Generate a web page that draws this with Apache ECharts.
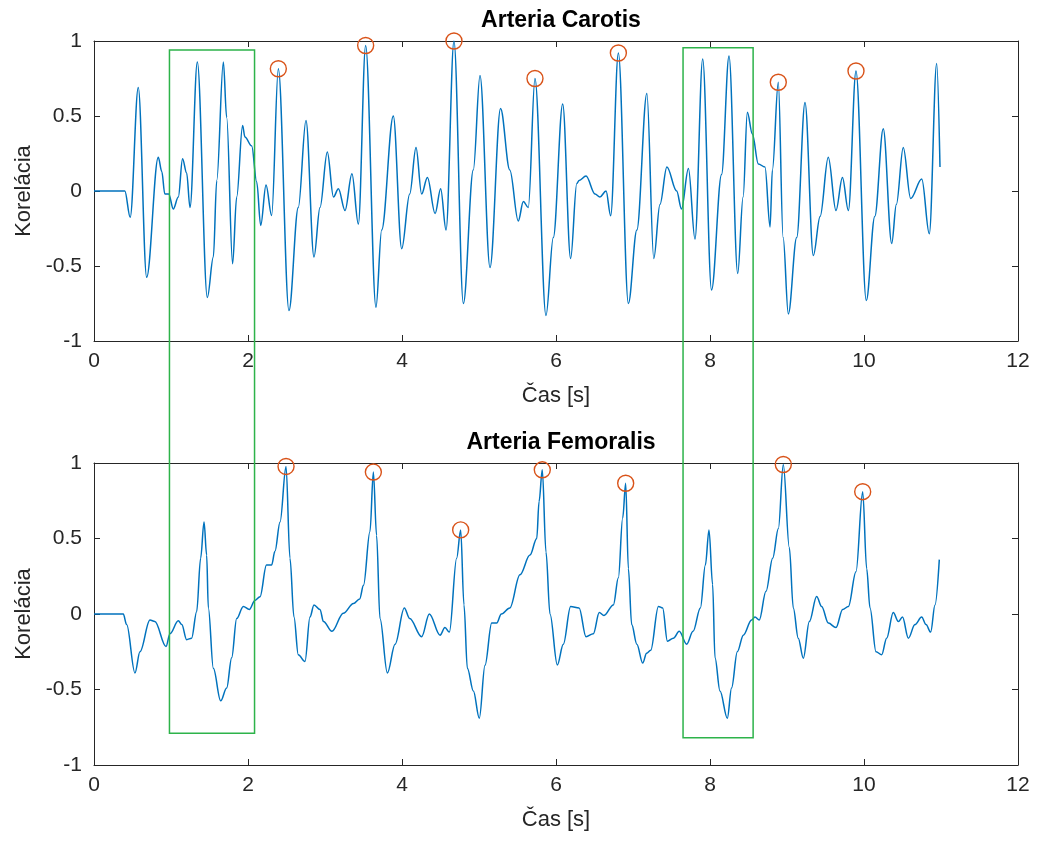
<!DOCTYPE html>
<html>
<head>
<meta charset="utf-8">
<title>Arteria Carotis / Femoralis</title>
<script src="https://cdn.jsdelivr.net/npm/echarts@6/dist/echarts.min.js"></script>
<style>
  html, body { margin: 0; padding: 0; background: #fff; }
  #main { width: 1038px; height: 843px; }
</style>
</head>
<body>
<div id="main"></div>
<script>
// hodnoty odčítané z obrázka
var carotisT = [0, 0.40, 0.47, 0.575, 0.684, 0.835, 0.88, 0.92, 0.97, 1.03, 1.095, 1.15, 1.203, 1.247, 1.342, 1.472, 1.55, 1.594, 1.68, 1.723, 1.80, 1.853, 1.93, 1.96, 2.048, 2.113, 2.165, 2.234, 2.307, 2.394, 2.532, 2.653, 2.753, 2.857, 2.935, 3.03, 3.11, 3.174, 3.26, 3.35, 3.433, 3.528, 3.662, 3.736, 3.887, 3.996, 4.10, 4.182, 4.255, 4.33, 4.43, 4.502, 4.572, 4.675, 4.797, 4.926, 5.013, 5.143, 5.28, 5.40, 5.51, 5.576, 5.64, 5.727, 5.87, 5.965, 6.087, 6.19, 6.27, 6.30, 6.39, 6.507, 6.57, 6.65, 6.71, 6.81, 6.94, 7.05, 7.18, 7.27, 7.35, 7.44, 7.567, 7.63, 7.72, 7.805, 7.905, 8.02, 8.15, 8.247, 8.36, 8.43, 8.485, 8.55, 8.628, 8.714, 8.78, 8.81, 8.887, 8.95, 9.017, 9.126, 9.234, 9.342, 9.43, 9.536, 9.636, 9.72, 9.797, 9.896, 10.03, 10.14, 10.25, 10.36, 10.42, 10.51, 10.606, 10.75, 10.848, 10.944, 10.987];
var carotisV = [0, 0, -0.175, 0.69, -0.575, 0.225, 0.13, -0.02, -0.02, -0.12, -0.04, 0.215, 0.12, -0.11, 0.86, -0.71, -0.44, 0.07, 0.86, 0.49, -0.485, -0.04, 0.437, 0.36, 0.30, 0.06, -0.23, 0.04, -0.163, 0.815, -0.797, -0.11, 0.47, -0.44, -0.11, 0.26, -0.04, 0.015, -0.13, 0.115, -0.22, 0.97, -0.775, -0.26, 0.50, -0.385, -0.02, 0.29, -0.02, 0.09, -0.15, 0.015, -0.26, 1.0, -0.75, 0.14, 0.77, -0.51, 0.55, 0.14, -0.2, -0.07, -0.11, 0.75, -0.83, -0.31, 0.58, -0.45, 0.05, 0.07, 0.10, -0.02, -0.04, 0.0, -0.165, 0.92, -0.75, -0.26, 0.65, -0.45, -0.09, 0.16, 0.0, -0.12, 0.15, -0.32, 0.88, -0.66, 0.11, 0.90, -0.55, -0.04, 0.525, 0.38, 0.18, 0.16, -0.24, 0.14, 0.725, -0.31, -0.82, -0.31, 0.59, -0.43, -0.17, 0.225, -0.13, 0.09, -0.13, 0.80, -0.73, -0.17, 0.415, -0.35, -0.09, 0.29, -0.05, 0.08, -0.285, 0.85, 0.16];
var carotisPeakT = [2.394, 3.528, 4.675, 5.727, 6.81, 8.887, 9.896];
var carotisPeakV = [0.815, 0.97, 1.0, 0.75, 0.92, 0.725, 0.80];

var femoralisT = [0, 0.38, 0.424, 0.532, 0.597, 0.727, 0.79, 0.935, 0.987, 1.095, 1.14, 1.203, 1.268, 1.333, 1.385, 1.429, 1.463, 1.485, 1.55, 1.645, 1.723, 1.788, 1.853, 1.939, 2.017, 2.09, 2.156, 2.24, 2.307, 2.35, 2.416, 2.494, 2.545, 2.597, 2.653, 2.74, 2.805, 2.857, 2.935, 2.98, 3.09, 3.238, 3.37, 3.45, 3.50, 3.584, 3.628, 3.67, 3.714, 3.81, 3.91, 4.03, 4.10, 4.255, 4.355, 4.494, 4.558, 4.615, 4.71, 4.762, 4.805, 4.849, 4.927, 5.004, 5.078, 5.165, 5.23, 5.29, 5.40, 5.532, 5.662, 5.75, 5.78, 5.822, 5.87, 5.922, 6.017, 6.095, 6.19, 6.30, 6.39, 6.485, 6.562, 6.623, 6.745, 6.81, 6.866, 6.905, 6.94, 6.983, 7.05, 7.126, 7.177, 7.23, 7.33, 7.385, 7.447, 7.524, 7.60, 7.697, 7.78, 7.875, 7.94, 7.987, 8.034, 8.065, 8.13, 8.225, 8.28, 8.355, 8.433, 8.54, 8.584, 8.64, 8.727, 8.814, 8.888, 8.952, 9.03, 9.082, 9.146, 9.212, 9.29, 9.385, 9.45, 9.537, 9.636, 9.723, 9.797, 9.896, 9.983, 10.035, 10.078, 10.156, 10.23, 10.294, 10.38, 10.446, 10.5, 10.576, 10.662, 10.749, 10.805, 10.866, 10.922, 10.978];
var femoralisV = [0, 0, -0.07, -0.39, -0.25, -0.04, -0.05, -0.215, -0.13, -0.045, -0.07, -0.17, -0.16, 0.015, 0.37, 0.61, 0.39, 0.04, -0.36, -0.575, -0.49, -0.29, -0.03, 0.05, 0.03, 0.09, 0.115, 0.325, 0.325, 0.415, 0.61, 0.977, 0.37, -0.02, -0.27, -0.315, -0.02, 0.06, 0.03, -0.05, -0.115, 0.005, 0.07, 0.10, 0.19, 0.546, 0.94, 0.52, -0.03, -0.39, -0.2, 0.04, -0.03, -0.15, 0.0, -0.14, -0.09, -0.12, 0.37, 0.557, 0.06, -0.36, -0.51, -0.69, -0.34, -0.06, -0.06, 0.0, 0.04, 0.26, 0.39, 0.5, 0.745, 0.955, 0.41, 0.0, -0.337, -0.2, 0.05, 0.04, -0.15, -0.13, 0.01, -0.01, 0.06, 0.24, 0.635, 0.866, 0.30, -0.07, -0.2, -0.325, -0.26, -0.24, 0.05, 0.04, -0.18, -0.16, -0.115, -0.2, -0.115, 0.04, 0.325, 0.557, 0.195, -0.29, -0.51, -0.69, -0.49, -0.25, -0.14, -0.04, -0.02, -0.04, 0.15, 0.37, 0.566, 0.99, 0.44, 0.04, -0.16, -0.293, -0.05, 0.116, 0.05, -0.06, -0.09, 0.03, 0.05, 0.28, 0.81, 0.30, 0.04, -0.25, -0.27, -0.16, 0.01, -0.05, -0.02, -0.16, -0.07, -0.02, -0.07, -0.12, 0.06, 0.36];
var femoralisPeakT = [2.494, 3.628, 4.762, 5.822, 6.905, 8.952, 9.983];
var femoralisPeakV = [0.977, 0.94, 0.557, 0.955, 0.866, 0.99, 0.81];

// zelené obdĺžniky: [t od, t do, horná hodnota (Carotis), dolná hodnota (Femoralis)]
var boxT0 = [0.98, 7.65];
var boxT1 = [2.085, 8.56];
var boxTop = [0.94, 0.955];
var boxBottom = [-0.79, -0.82];

var xTicks = { min: 0, max: 12, interval: 2 };
var yTicks = { min: -1, max: 1, interval: 0.5 };

function zip(a, b) {
  var out = [];
  for (var i = 0; i < a.length; i++) out.push([a[i], b[i]]);
  return out;
}

var font = "'Liberation Sans', Arial, sans-serif";
var axisColor = "#262626";

function xAxisFor(grid, mirror) {
  return {
    type: "value", gridIndex: grid, position: mirror ? "top" : "bottom",
    min: xTicks.min, max: xTicks.max, interval: xTicks.interval,
    name: mirror ? "" : "Čas [s]", nameLocation: "middle", nameGap: 44,
    nameTextStyle: { fontFamily: font, fontSize: 22, color: axisColor },
    axisLine: { show: true, onZero: false, lineStyle: { color: axisColor, width: 1 } },
    axisTick: { show: true, inside: true, length: 6, lineStyle: { color: axisColor } },
    axisLabel: { show: !mirror, fontFamily: font, fontSize: 21, color: axisColor, margin: 10 },
    splitLine: { show: false }
  };
}

function yAxisFor(grid, mirror) {
  return {
    type: "value", gridIndex: grid, position: mirror ? "right" : "left",
    min: yTicks.min, max: yTicks.max, interval: yTicks.interval,
    name: mirror ? "" : "Korelácia", nameLocation: "middle", nameGap: 52,
    nameTextStyle: { fontFamily: font, fontSize: 22, color: axisColor },
    axisLine: { show: true, onZero: false, lineStyle: { color: axisColor, width: 1 } },
    axisTick: { show: true, inside: true, length: 6, lineStyle: { color: axisColor } },
    axisLabel: { show: !mirror, fontFamily: font, fontSize: 21, color: axisColor, margin: 12 },
    splitLine: { show: false }
  };
}

function signal(grid, t, v) {
  return {
    type: "line", xAxisIndex: grid * 2, yAxisIndex: grid * 2,
    data: zip(t, v), showSymbol: false, animation: false,
    smooth: 0.35, smoothMonotone: "x",
    lineStyle: { color: "#0072BD", width: 1.5 }
  };
}

function peaks(grid, t, v) {
  return {
    type: "scatter", xAxisIndex: grid * 2, yAxisIndex: grid * 2,
    data: zip(t, v), symbol: "circle", symbolSize: 16, clip: false, animation: false,
    itemStyle: { color: "rgba(0,0,0,0)", borderColor: "#D95319", borderWidth: 1.4, opacity: 1 },
    z: 5
  };
}

var myChart = echarts.init(document.getElementById("main"));
var option = {
  backgroundColor: "#fff",
  animation: false,
  title: [
    { text: "Arteria Carotis", left: 556, top: 4, textAlign: "center",
      textStyle: { fontFamily: font, fontSize: 23, fontWeight: "bold", color: "#000" } },
    { text: "Arteria Femoralis", left: 556, top: 426, textAlign: "center",
      textStyle: { fontFamily: font, fontSize: 23, fontWeight: "bold", color: "#000" } }
  ],
  grid: [
    { left: 94, width: 924, top: 41, height: 300 },
    { left: 94, width: 924, top: 463, height: 302 }
  ],
  xAxis: [xAxisFor(0, false), xAxisFor(0, true), xAxisFor(1, false), xAxisFor(1, true)],
  yAxis: [yAxisFor(0, false), yAxisFor(0, true), yAxisFor(1, false), yAxisFor(1, true)],
  series: [
    signal(0, carotisT, carotisV),
    peaks(0, carotisPeakT, carotisPeakV),
    signal(1, femoralisT, femoralisV),
    peaks(1, femoralisPeakT, femoralisPeakV)
  ]
};
myChart.setOption(option);

// obdĺžniky cez oba grafy - pozície cez škály osí
var rects = [];
for (var i = 0; i < boxT0.length; i++) {
  var p0 = myChart.convertToPixel({ gridIndex: 0 }, [boxT0[i], boxTop[i]]);
  var p1 = myChart.convertToPixel({ gridIndex: 1 }, [boxT1[i], boxBottom[i]]);
  rects.push({
    type: "rect", z: 100,
    shape: { x: p0[0], y: p0[1], width: p1[0] - p0[0], height: p1[1] - p0[1] },
    style: { fill: null, stroke: "#2DB34A", lineWidth: 1.5 }
  });
}
myChart.setOption({ graphic: rects });
</script>
</body>
</html>
